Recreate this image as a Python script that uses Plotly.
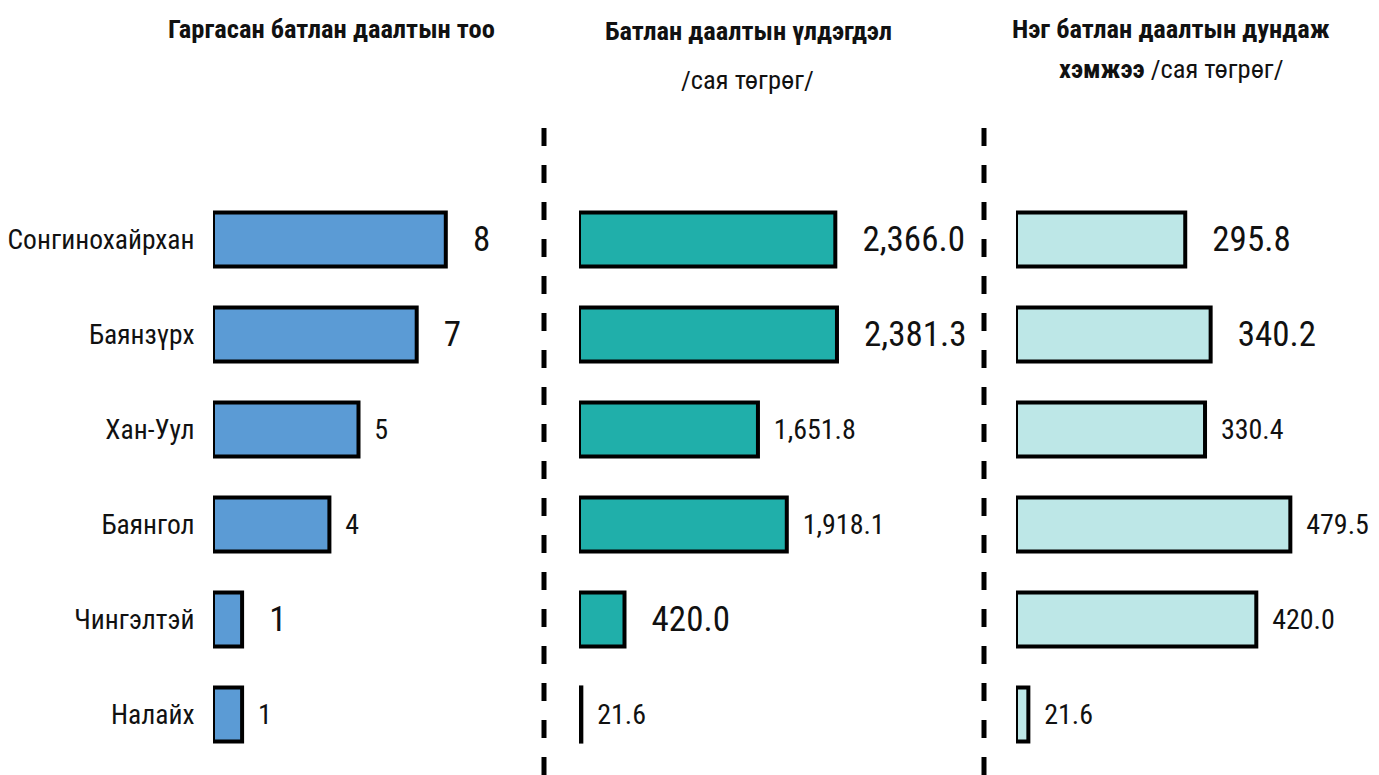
"""Three-panel horizontal bar infographic: guarantees by district."""
import plotly.graph_objects as go

# --- data -----------------------------------------------------------------
districts = ["Сонгинохайрхан", "Баянзүрх", "Хан-Уул", "Баянгол", "Чингэлтэй", "Налайх"]
guarantee_count = [8, 7, 5, 4, 1, 1]
guarantee_balance = [2366.0, 2381.3, 1651.8, 1918.1, 420.0, 21.6]
average_size = [295.8, 340.2, 330.4, 479.5, 420.0, 21.6]

count_labels = ["8", "7", "5", "4", "1", "1"]
balance_labels = ["2,366.0", "2,381.3", "1,651.8", "1,918.1", "420.0", "21.6"]
average_labels = ["295.8", "340.2", "330.4", "479.5", "420.0", "21.6"]

# --- style ----------------------------------------------------------------
FONT = "Roboto Condensed, DejaVu Sans Condensed, sans-serif"
# the page body has an 8px margin, so the figure starts at (8, 8)
OFF = 8
W, H = 1379 - OFF, 775 - OFF
BIG, SMALL = 35, 28


def fx(px):
    return (px - OFF) / W


def fy(px):
    return 1 - (px - OFF) / H


def pad(label, size):
    # a little breathing room between bar end and its value
    return "\u00a0" * (3 if size == BIG else 2) + label


panels = [
    # values, labels, colour, label sizes, x range, x domain in page px
    (guarantee_count, count_labels, "#5B9BD5", [BIG, BIG, SMALL, SMALL, BIG, SMALL], [0, 10], (213, 504)),
    (guarantee_balance, balance_labels, "#20AFAA", [BIG, BIG, SMALL, SMALL, BIG, SMALL], [0, 3000], (579, 904)),
    (average_size, average_labels, "#BDE7E7", [BIG, BIG, SMALL, SMALL, SMALL, SMALL], [0, 610], (1016, 1365)),
]

# vertical extent of the bar area (page px from top)
y_top, y_bot = 192, 762

fig = go.Figure()
for i, (vals, labels, colour, sizes, xr, (x0, x1)) in enumerate(panels):
    suffix = "" if i == 0 else str(i + 1)
    fig.add_trace(go.Bar(
        y=districts,
        x=vals,
        orientation="h",
        width=0.57,
        marker=dict(color=colour, line=dict(color="black", width=4)),
        text=[pad(t, s) for t, s in zip(labels, sizes)],
        textposition="outside",
        textfont=dict(size=sizes, color="#111111", family=FONT),
        constraintext="none",
        cliponaxis=False,
        xaxis="x" + suffix,
        yaxis="y" + suffix,
        showlegend=False,
        hoverinfo="skip",
    ))
    fig.layout["xaxis" + suffix] = dict(
        domain=[fx(x0), fx(x1)], range=xr, visible=False, fixedrange=True,
    )
    fig.layout["yaxis" + suffix] = dict(
        domain=[fy(y_bot), fy(y_top)],
        range=[5.5, -0.5],
        anchor="x" + suffix,
        showticklabels=(i == 0),
        showgrid=False, zeroline=False, showline=False,
        ticks="outside" if i == 0 else "",
        ticklen=12, tickcolor="rgba(0,0,0,0)",
        tickfont=dict(size=27.5, color="#111111", family=FONT),
        fixedrange=True,
        automargin=False,
    )

# dashed separators
for xpx in (544, 984):
    fig.add_shape(
        type="line", xref="paper", yref="paper",
        x0=fx(xpx), x1=fx(xpx), y0=fy(775), y1=fy(128),
        line=dict(color="black", width=5, dash="18px,19px"),
    )

# panel headings
headings = [
    (331, 29, "<b>Гаргасан батлан даалтын тоо</b>"),
    (748, 31, "<b>Батлан даалтын үлдэгдэл</b>"),
    (747, 79, "/сая төгрөг/"),
    (1171, 29, "<b>Нэг батлан даалтын дундаж</b>"),
    (1171, 68, "<b>хэмжээ</b> /сая төгрөг/"),
]
for xpx, ypx, txt in headings:
    fig.add_annotation(
        x=fx(xpx), y=fy(ypx), xref="paper", yref="paper",
        text=txt, showarrow=False, xanchor="center", yanchor="middle",
        font=dict(size=26.5, color="#111111", family=FONT),
    )

fig.update_layout(
    width=W, height=H,
    margin=dict(l=0, r=0, t=0, b=0),
    paper_bgcolor="white",
    plot_bgcolor="white",
    font=dict(family=FONT, color="#111111"),
    bargap=0.4,
)

fig.write_html("out.html")
